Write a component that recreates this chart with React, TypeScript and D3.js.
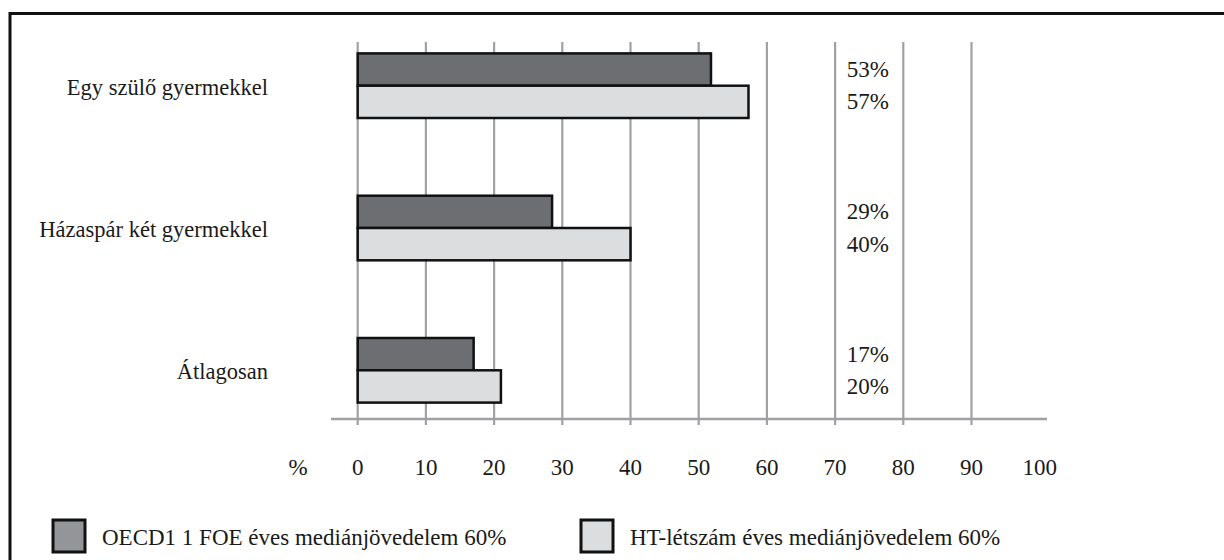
import React from "react";
import * as d3 from "d3";

const categories = ["Egy szülő gyermekkel", "Házaspár két gyermekkel", "Átlagosan"];
const seriesNames = ["OECD1 1 FOE éves mediánjövedelem 60%", "HT-létszám éves mediánjövedelem 60%"];
const oecdValues = [51.8, 28.5, 17.0];
const htValues = [57.3, 40.0, 21.0];
const oecdLabels = ["53%", "29%", "17%"];
const htLabels = ["57%", "40%", "20%"];
const tickValues = [0, 10, 20, 30, 40, 50, 60, 70, 80, 90, 100];
const gridValues = [0, 10, 20, 30, 40, 50, 60, 70, 80, 90];
const axisUnit = "%";

const W = 1224;
const H = 560;
const FONT = "'Liberation Serif', 'Times New Roman', serif";
const barFills = ["#6d6e71", "#dcdddf"];
const legendFills = ["#939598", "#dcdddf"];
const gridColor = "#a0a1a4";
const textColor = "#1a1a1a";

export default function App() {
  const x = d3.scaleLinear().domain([0, 100]).range([357.7, 1039.7]);
  const y = d3.scalePoint<string>().domain(categories).range([85.7, 370.3]);
  const inner = d3.scaleBand<string>().domain(seriesNames).range([-32.3, 32.3]);
  const seriesData = [oecdValues, htValues];
  const seriesLabels = [oecdLabels, htLabels];
  const axisY = 419;
  const labelX = 846.7;

  return (
    <svg width={W} height={H} style={{ position: "absolute", left: 0, top: 0, background: "#fff" }}>
      {/* frame */}
      <line x1={10} x2={W} y1={13.5} y2={13.5} stroke="#111" strokeWidth={3} />
      <line x1={10} x2={10} y1={12} y2={H} stroke="#111" strokeWidth={3} />

      {/* gridlines */}
      {gridValues.map((v) => (
        <line key={"g" + v} x1={x(v)} x2={x(v)} y1={42} y2={425} stroke={gridColor} strokeWidth={2.2} />
      ))}
      {/* axis */}
      <line x1={331} x2={1047} y1={axisY} y2={axisY} stroke={gridColor} strokeWidth={2.5} />

      {/* tick labels */}
      <text x={298} y={475} textAnchor="middle" fontFamily={FONT} fontSize={23} fill={textColor}>
        {axisUnit}
      </text>
      {tickValues.map((v) => (
        <text key={"t" + v} x={x(v)} y={475} textAnchor="middle" fontFamily={FONT} fontSize={23} fill={textColor}>
          {v}
        </text>
      ))}

      {/* bars */}
      {categories.map((c, i) => (
        <g key={c}>
          {seriesNames.map((s, si) => {
            const top = (y(c) as number) + (inner(s) as number);
            return (
              <rect
                key={s}
                x={x(0)}
                y={top}
                width={x(seriesData[si][i]) - x(0)}
                height={inner.bandwidth()}
                fill={barFills[si]}
                stroke="#111"
                strokeWidth={2.5}
              />
            );
          })}
          <text
            x={268}
            y={(y(c) as number) + 9}
            textAnchor="end"
            fontFamily={FONT}
            fontSize={22.5}
            fill={textColor}
          >
            {c}
          </text>
          {seriesNames.map((s, si) => (
            <text
              key={"l" + s}
              x={labelX}
              y={(y(c) as number) + (inner(s) as number) + inner.bandwidth() / 2 + 7.5}
              fontFamily={FONT}
              fontSize={23}
              fill={textColor}
            >
              {seriesLabels[si][i]}
            </text>
          ))}
        </g>
      ))}

      {/* legend */}
      {seriesNames.map((s, si) => {
        const lx = si === 0 ? 53 : 581;
        return (
          <g key={"leg" + s}>
            <rect x={lx} y={520} width={32} height={32} fill={legendFills[si]} stroke="#111" strokeWidth={3} />
            <text x={lx + 49} y={545} fontFamily={FONT} fontSize={23} fill={textColor}>
              {s}
            </text>
          </g>
        );
      })}
    </svg>
  );
}
